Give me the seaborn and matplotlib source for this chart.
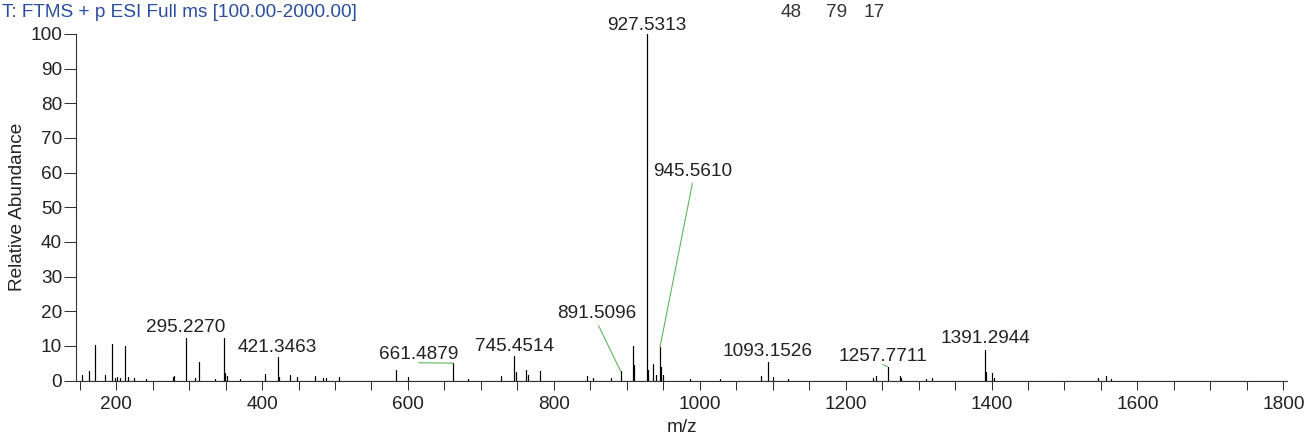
import matplotlib
matplotlib.use("Agg")
import matplotlib.pyplot as plt
import pandas as pd
import seaborn as sns
from matplotlib.ticker import MultipleLocator

# ---------------- data ----------------
peak_mz = [153.0, 162.5, 170.5, 185.0, 194.5, 198.0, 201.0, 205.0, 212.5, 216.0,
           224.0, 241.0, 278.0, 280.0, 295.2270, 307.5, 313.0, 335.0, 347.5, 349.5,
           352.0, 370.0, 404.0, 421.3463, 423.0, 439.0, 447.5, 472.0, 483.5, 488.0,
           505.0, 583.0, 600.0, 661.4879, 683.0, 728.0, 745.4514, 747.5, 762.0, 764.5,
           780.5, 845.5, 853.5, 878.5, 891.5096, 908.5, 909.5, 927.5313, 928.53, 929.5,
           936.0, 939.5, 945.5610, 946.56, 949.5, 987.0, 1028.0, 1084.0, 1093.1526, 1094.2,
           1101.0, 1121.0, 1237.0, 1241.0, 1257.7711, 1274.0, 1276.5, 1310.0, 1318.0, 1391.2944,
           1392.3, 1400.0, 1404.0, 1546.0, 1557.0, 1564.0]
peak_int = [1.6, 2.6, 10.2, 1.6, 10.5, 0.8, 1.0, 0.8, 10.1, 1.0,
            0.8, 0.4, 1.0, 1.2, 12.4, 0.8, 5.4, 0.5, 12.2, 2.2,
            1.2, 0.4, 1.9, 6.8, 1.0, 1.6, 1.0, 1.4, 0.8, 0.6,
            1.0, 3.0, 1.0, 5.0, 0.4, 1.2, 7.2, 2.5, 3.0, 1.5,
            2.7, 1.3, 0.8, 0.6, 2.7, 10.0, 4.5, 100.0, 3.0, 2.0,
            4.9, 1.5, 9.7, 3.8, 1.5, 0.5, 0.4, 1.3, 5.4, 1.5,
            1.0, 0.5, 0.8, 1.3, 4.0, 1.4, 0.7, 0.5, 0.8, 8.8,
            2.5, 2.2, 0.6, 0.7, 1.3, 0.5]
label_mz = [295.2270, 421.3463, 661.4879, 745.4514, 891.5096, 927.5313,
            945.5610, 1093.1526, 1257.7711, 1391.2944]
x_ticks = [200, 400, 600, 800, 1000, 1200, 1400, 1600, 1800]
y_ticks = [0, 10, 20, 30, 40, 50, 60, 70, 80, 90, 100]
x_label = "m/z"
y_label = "Relative Abundance"
header_text = "T: FTMS + p ESI Full ms [100.00-2000.00]"
header_fragments = ["48", "79", "17"]

# ---------------- layout / style ----------------
W, H = 1307, 438
FS = 13.7
label_layout = {  # (dx pt, dy pt, leader line)
    295.2270: (0, 4.3, False),
    421.3463: (0, 3.6, False),
    661.4879: (-24.5, 3.2, True),
    745.4514: (0, 3.6, False),
    891.5096: (-17, 38, True),
    927.5313: (0, 3.0, False),
    945.5610: (23.8, 123, True),
    1093.1526: (0, 4.3, False),
    1257.7711: (-3.6, 4.3, True),
    1391.2944: (0, 5.0, False),
}
fragment_x = [791, 837, 874]

sns.set_theme(style="white")
plt.rcParams["font.family"] = ["Liberation Sans", "DejaVu Sans"]

fig = plt.figure(figsize=(W / 100, H / 100), dpi=100)
ax = fig.add_axes([76 / W, 1 - 380.5 / H, 1211 / W, 346.5 / H])

# stick spectrum as a single profile line
xs, ys = [145.0], [0.0]
for m, h in sorted(zip(peak_mz, peak_int)):
    xs += [m, m, m]
    ys += [0.0, h, 0.0]
xs.append(1805.0)
ys.append(0.0)
df = pd.DataFrame({"mz": xs, "intensity": ys})
sns.lineplot(data=df, x="mz", y="intensity", sort=False, estimator=None,
             errorbar=None, color="black", lw=0.8, ax=ax)

lookup = dict(zip(peak_mz, peak_int))
for m in label_mz:
    dx, dy, leader = label_layout[m]
    ap = None
    if leader:
        ap = dict(arrowstyle="-", color="#5cb85c", lw=0.8, shrinkA=0, shrinkB=0,
                  relpos=(0.5, 0.0))
    ax.annotate(f"{m:.4f}", xy=(m, lookup[m]), xytext=(dx, dy),
                textcoords="offset points", ha="center", va="baseline",
                fontsize=FS, color="#222222", arrowprops=ap, annotation_clip=False)

ax.set_xlim(145, 1805)
ax.set_ylim(0, 100)
ax.set_xticks(x_ticks)
ax.xaxis.set_minor_locator(MultipleLocator(50))
ax.set_yticks(y_ticks)
for s in ("top", "right"):
    ax.spines[s].set_visible(False)
for s in ("left", "bottom"):
    ax.spines[s].set_color("#333333")
    ax.spines[s].set_linewidth(0.8)
ax.tick_params(axis="x", which="both", bottom=True, direction="out", length=6.8,
               width=0.75, color="#333333", pad=4.5, labelsize=FS, labelcolor="#222222")
ax.tick_params(axis="y", which="both", left=True, direction="out", length=9,
               width=0.75, color="#333333", pad=1, labelsize=FS, labelcolor="#222222")

ax.set_xlabel(x_label, fontsize=FS, color="#222222")
ax.set_ylabel(y_label, fontsize=FS, color="#222222")
ax.xaxis.set_label_coords(0.5, -0.137)
ax.xaxis.label.set_va("center")
ax.yaxis.set_label_coords((18 - 76) / 1211, 0.5)
ax.yaxis.label.set_va("center")
ax.patch.set_alpha(0)

fig.text(2 / W, 1 - 17 / H, header_text, ha="left", va="baseline",
         fontsize=FS, color="#2b4f9e")
for t, x in zip(header_fragments, fragment_x):
    fig.text(x / W, 1 - 17 / H, t, ha="center", va="baseline", fontsize=FS,
             color="#333333")

fig.savefig("out.png", dpi=100, facecolor="white")
